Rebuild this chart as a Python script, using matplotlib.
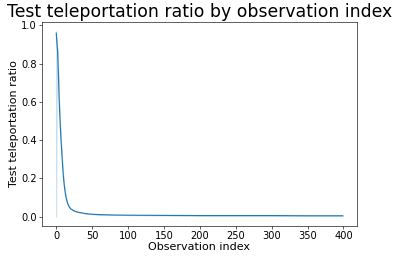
import matplotlib
matplotlib.use("Agg")
import matplotlib.pyplot as plt

# observation index and mean teleportation ratio
obs_index = [0, 1, 2, 3, 4, 5, 6, 7, 8, 9, 10, 11, 12, 13, 14, 15, 16, 18, 20,
             25, 30, 40, 50, 60, 80, 100, 150, 200, 250, 300, 350, 399]
ratio = [0.96, 0.91, 0.86, 0.75, 0.62, 0.53, 0.45, 0.38, 0.32, 0.26, 0.21,
         0.17, 0.14, 0.115, 0.095, 0.08, 0.068, 0.052, 0.042, 0.03, 0.024,
         0.017, 0.013, 0.011, 0.009, 0.008, 0.007, 0.006, 0.006, 0.006,
         0.005, 0.005]
# spread band around the mean
band_low = [0.0] + ratio[1:]
band_high = [0.97] + ratio[1:]

DPI = 55
fig = plt.figure(figsize=(399 / DPI, 258 / DPI), dpi=DPI)
ax = fig.add_axes([0.105, 0.124, 0.79, 0.791])

ax.fill_between(obs_index, band_low, band_high, color="#1f77b4", alpha=0.2,
                linewidth=1.0)
ax.plot(obs_index, ratio, color="#1f77b4", linewidth=1.5)

ax.set_title("Test teleportation ratio by observation index", fontsize=22.5)
ax.set_xlabel("Observation index", fontsize=14.5, labelpad=1)
ax.set_ylabel("Test teleportation ratio", fontsize=14.5, labelpad=3)
ax.tick_params(labelsize=13)
ax.set_yticks([0.0, 0.2, 0.4, 0.6, 0.8, 1.0])

fig.savefig("out.png", dpi=DPI)
